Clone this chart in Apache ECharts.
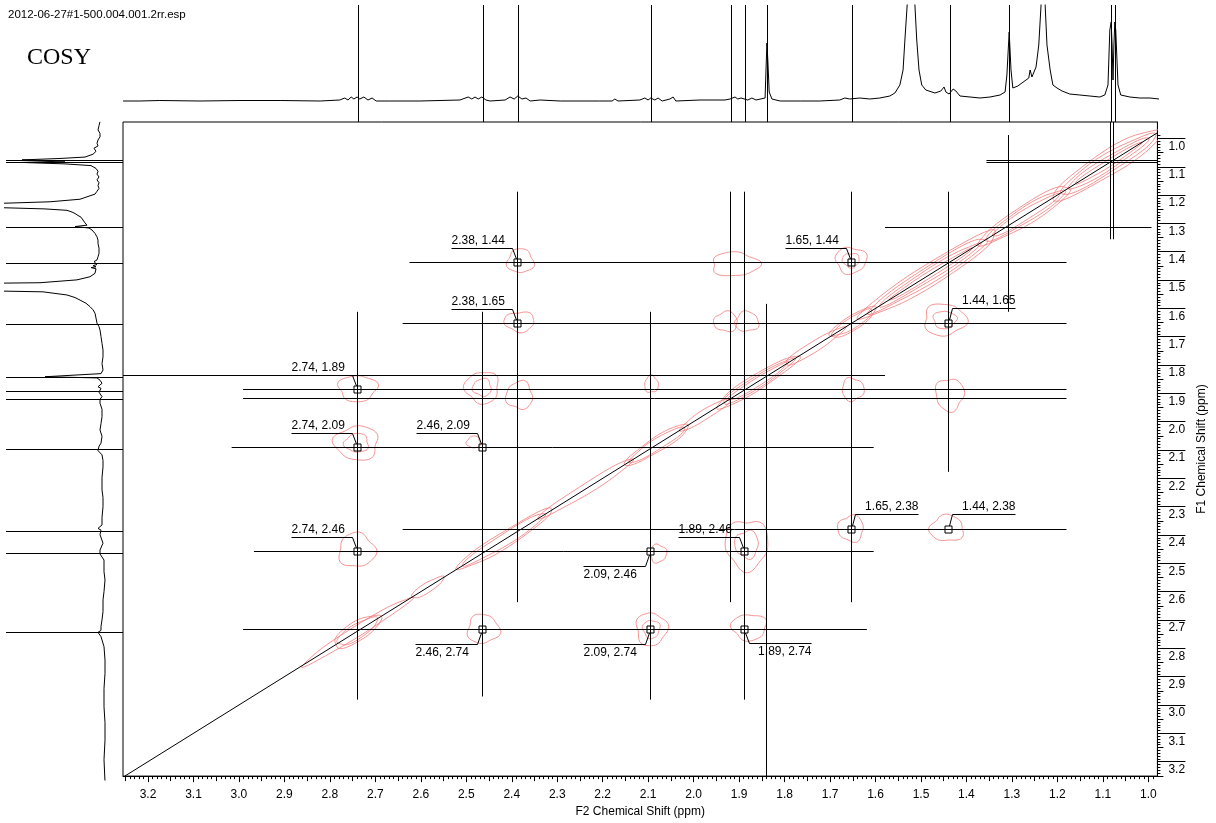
<!DOCTYPE html>
<html><head><meta charset="utf-8">
<script src="https://cdn.jsdelivr.net/npm/echarts@6/dist/echarts.min.js"></script>
<style>html,body{margin:0;padding:0;background:#fff}#c{width:1216px;height:823px}</style>
</head><body><div id="c"></div>
<script>
// ---------------- data ----------------
const F2_MAJOR = [1.0,1.1,1.2,1.3,1.4,1.5,1.6,1.7,1.8,1.9,2.0,2.1,2.2,2.3,2.4,2.5,2.6,2.7,2.8,2.9,3.0,3.1,3.2];
const F1_MAJOR = [1.0,1.1,1.2,1.3,1.4,1.5,1.6,1.7,1.8,1.9,2.0,2.1,2.2,2.3,2.4,2.5,2.6,2.7,2.8,2.9,3.0,3.1,3.2];
const F2_RANGE = [0.98, 3.255];
const F1_RANGE = [0.942, 3.251];

// 1D projection on top: [ppm, intensity]
const topTrace = [[3.255,4],[3.218,4],[3.174,4.5],[3.086,4],[2.998,4.5],[2.910,4.5],[2.822,4],[2.779,5],[2.768,7],[2.761,5],[2.754,8],[2.748,6],[2.741,8],[2.735,6],[2.726,8],[2.717,5],[2.708,7],[2.699,4],[2.669,4],[2.603,4],[2.515,5],[2.497,8],[2.489,6],[2.482,8],[2.475,6],[2.467,8],[2.458,5],[2.449,4],[2.416,5],[2.405,8],[2.396,6],[2.388,9],[2.379,6],[2.370,7],[2.361,4],[2.339,5],[2.295,4],[2.208,4],[2.181,4],[2.175,6],[2.168,4],[2.120,5],[2.109,7],[2.102,5],[2.096,7],[2.087,5],[2.080,7],[2.071,4],[2.054,6],[2.047,8],[2.041,4],[1.988,5],[1.933,5],[1.922,6],[1.911,8],[1.905,6],[1.898,7],[1.883,5],[1.874,7],[1.865,5],[1.845,7],[1.843,35],[1.841,62],[1.839,45],[1.836,13],[1.830,6],[1.812,4],[1.768,4],[1.725,4],[1.681,5],[1.670,7],[1.659,6],[1.637,7],[1.615,6],[1.593,7],[1.571,9],[1.560,12],[1.549,20],[1.542,35],[1.538,65],[1.533,100],[1.525,180],[1.516,100],[1.512,65],[1.507,35],[1.501,20],[1.492,15],[1.472,12],[1.459,14],[1.452,18],[1.448,13],[1.441,11],[1.432,16],[1.426,14],[1.417,9],[1.395,8],[1.373,7],[1.351,8],[1.329,10],[1.318,13],[1.314,30],[1.309,73],[1.305,35],[1.301,17],[1.290,19],[1.281,22],[1.272,25],[1.266,27],[1.263,35],[1.259,28],[1.250,38],[1.244,60],[1.239,100],[1.235,180],[1.230,100],[1.226,60],[1.219,35],[1.213,20],[1.204,17],[1.193,14],[1.176,11],[1.154,10],[1.132,9],[1.110,8],[1.099,10],[1.092,20],[1.088,75],[1.085,83],[1.083,60],[1.081,25],[1.079,60],[1.077,83],[1.075,75],[1.070,20],[1.064,10],[1.044,8],[1.022,7],[1.000,7],[0.980,6]];

// 1D projection on the left: [ppm, intensity]
const leftTrace = [[0.941,5],[0.955,6],[0.970,7],[0.982,5],[0.994,5],[1.005,7],[1.017,8],[1.026,7],[1.034,11],[1.045,9],[1.055,12],[1.065,20],[1.070,45],[1.075,83],[1.079,40],[1.084,83],[1.089,40],[1.095,14],[1.105,9],[1.115,7],[1.125,8],[1.135,6],[1.145,8],[1.155,6],[1.165,7],[1.175,6],[1.185,8],[1.195,10],[1.202,12],[1.213,25],[1.222,55],[1.228,110],[1.235,200],[1.242,110],[1.247,60],[1.252,38],[1.258,33],[1.263,30],[1.270,27],[1.276,24],[1.286,22],[1.296,20],[1.304,18],[1.309,30],[1.314,16],[1.321,13],[1.333,10],[1.345,8],[1.357,7],[1.368,7],[1.385,6],[1.403,6],[1.415,7],[1.426,8],[1.432,11],[1.438,13],[1.442,8],[1.446,12],[1.450,9],[1.453,14],[1.457,9],[1.461,8],[1.473,10],[1.485,15],[1.496,28],[1.506,65],[1.511,200],[1.520,200],[1.529,200],[1.538,62],[1.549,38],[1.558,30],[1.567,25],[1.578,19],[1.590,15],[1.601,12],[1.613,10],[1.630,9],[1.648,8],[1.660,6],[1.672,5],[1.695,4],[1.719,3],[1.742,2],[1.766,2],[1.790,3],[1.812,2],[1.825,4],[1.832,6],[1.836,60],[1.840,8],[1.848,5],[1.859,3],[1.865,5],[1.871,7],[1.877,4],[1.882,5],[1.890,6],[1.906,3],[1.915,5],[1.929,5],[1.950,3],[1.976,3],[2.000,4],[2.023,5],[2.045,3],[2.069,4],[2.080,6],[2.087,5],[2.095,7],[2.110,3],[2.130,2],[2.152,2],[2.190,3],[2.233,3],[2.260,2],[2.292,2],[2.330,3],[2.356,3],[2.368,7],[2.374,4],[2.380,6],[2.390,5],[2.397,6],[2.420,2],[2.444,5],[2.451,3],[2.458,5],[2.479,1],[2.520,1],[2.549,0],[2.590,1],[2.619,2],[2.660,2],[2.689,3],[2.712,4],[2.719,6],[2.726,4],[2.733,7],[2.740,5],[2.748,4],[2.783,1],[2.830,0],[2.877,0],[2.930,1],[2.994,1],[3.050,0],[3.111,0],[3.180,1],[3.257,0]];

// vertical cursor lines: [f2, f1 from, f1 to]
const vLines = [[2.740,1.612,2.981],[2.465,1.612,2.970],[2.388,1.188,2.637],[2.095,1.612,2.981],[1.920,1.188,2.637],[1.889,1.188,2.981],[1.841,1.584,3.251],[1.654,1.188,2.637],[1.440,1.188,2.177],[1.309,0.988,1.612],[1.085,0.942,1.356],[1.077,0.942,1.356]];
// horizontal cursor lines: [f1, f2 from, f2 to]
const hLines = [[1.075,1.356,0.980],[1.084,1.356,0.980],[1.311,1.579,0.993],[1.437,2.625,1.180],[1.651,2.640,1.180],[1.836,3.255,1.579],[1.885,2.991,1.180],[1.915,2.991,1.180],[2.089,3.016,1.604],[2.377,2.640,1.180],[2.455,2.967,1.604],[2.731,2.991,1.619]];

// labelled cross peaks: [f2, f1, label]
const crossPeaks = [[2.388,1.437,'2.38, 1.44'],[1.654,1.437,'1.65, 1.44'],[2.388,1.651,'2.38, 1.65'],[1.440,1.651,'1.44, 1.65'],[2.740,1.885,'2.74, 1.89'],[2.740,2.089,'2.74, 2.09'],[2.465,2.089,'2.46, 2.09'],[1.654,2.377,'1.65, 2.38'],[1.440,2.377,'1.44, 2.38'],[2.740,2.455,'2.74, 2.46'],[2.095,2.455,'2.09, 2.46'],[1.889,2.455,'1.89, 2.46'],[2.465,2.731,'2.46, 2.74'],[2.095,2.731,'2.09, 2.74'],[1.889,2.731,'1.89, 2.74']];

// contour blobs: [f2, f1, half width f2, half width f1, contour levels]
const contourPeaks = [[2.381,1.433,0.029,0.042,1],[1.909,1.444,0.052,0.042,1],[1.654,1.430,0.034,0.046,2],[2.383,1.647,0.033,0.035,1],[1.929,1.647,0.026,0.035,1],[1.883,1.647,0.026,0.035,1],[1.448,1.640,0.046,0.056,2],[2.739,1.882,0.042,0.046,1],[2.465,1.879,0.037,0.056,2],[2.383,1.907,0.029,0.049,1],[2.093,1.868,0.015,0.030,1],[1.650,1.886,0.024,0.040,1],[1.437,1.904,0.031,0.057,1],[2.741,2.075,0.048,0.060,2],[2.484,2.072,0.015,0.021,1],[2.741,2.454,0.040,0.060,1],[2.078,2.465,0.018,0.032,1],[1.883,2.433,0.047,0.088,2],[1.654,2.377,0.028,0.046,1],[1.443,2.377,0.037,0.046,1],[2.463,2.732,0.035,0.051,1],[2.093,2.732,0.034,0.058,2],[1.878,2.725,0.038,0.046,1]];

// diagonal ridge pieces: [from ppm, to ppm, half width (f1 ppm), levels]
const diagonalRidge = [[2.86,2.62,0.022,1],[2.79,2.69,0.040,2],[2.62,2.55,0.020,1],[2.52,2.31,0.032,2],[2.34,2.13,0.022,1],[2.15,2.01,0.030,2],[2.03,1.92,0.020,1],[1.95,1.77,0.032,3],[1.80,1.67,0.022,1],[1.70,1.60,0.030,2],[1.63,1.33,0.045,4],[1.37,1.17,0.040,3],[1.21,0.97,0.050,4]];

// ---------------- layout / style ----------------
const LABEL_SIDE = ['ul','ul','ul','ur','ul','ul','ul','ur','ur','ul','dl','ul','dl','dl','dr'];
const FONT = '"Liberation Sans", Arial, sans-serif';
const CONTOUR = '#f27878';

function steps(a, b, s){ const out=[]; for(let i=Math.round(a/s); i<=Math.round(b/s); i++) out.push(+(i*s).toFixed(3)); return out; }
const minorVals = steps(0.99, 3.25, 0.01);
const midVals = steps(1.0, 3.25, 0.05);

function ellipsePts(cx, cy, rx, ry, ang, wob, ph){
  const pts=[]; const n=48;
  for(let i=0;i<n;i++){
    const t=i/n*2*Math.PI; const r=1+wob*Math.sin(3*t+ph)+wob*0.6*Math.sin(5*t+ph*1.7);
    const x=rx*r*Math.cos(t), y=ry*r*Math.sin(t);
    pts.push([cx + x*Math.cos(ang) - y*Math.sin(ang), cy + x*Math.sin(ang) + y*Math.cos(ang)]);
  }
  return pts;
}
const crisp = v => Math.round(v) + 0.5;

const chart = echarts.init(document.getElementById('c'), null, {renderer:'canvas'});

const mainX = {gridIndex:0, type:'value', min:F2_RANGE[0], max:F2_RANGE[1], inverse:true, position:'bottom', splitLine:{show:false}};
const mainY = {gridIndex:0, type:'value', min:F1_RANGE[0], max:F1_RANGE[1], inverse:true, position:'right', splitLine:{show:false}};

const option = {
  animation:false,
  backgroundColor:'#fff',
  grid:[
    {left:123, top:122, width:1036, height:658, show:true, borderColor:'#000', borderWidth:1, backgroundColor:'transparent'},
    {left:123, top:5, width:1036, height:117},
    {left:5, top:122, width:118, height:658}
  ],
  xAxis:[
    Object.assign({}, mainX, {
      axisLine:{show:true, lineStyle:{color:'#000', width:1}},
      axisTick:{show:true, inside:false, length:6, customValues:F2_MAJOR, lineStyle:{color:'#000'}},
      axisLabel:{customValues:F2_MAJOR, formatter:v=>v.toFixed(1), color:'#000', fontFamily:FONT, fontSize:12, margin:13},
      name:'F2 Chemical Shift (ppm)', nameLocation:'middle', nameGap:25,
      nameTextStyle:{color:'#000', fontFamily:FONT, fontSize:12}
    }),
    Object.assign({}, mainX, {axisLine:{show:false}, axisTick:{show:true, length:3, customValues:minorVals, lineStyle:{color:'#000'}}, axisLabel:{show:false}}),
    Object.assign({}, mainX, {axisLine:{show:false}, axisTick:{show:true, length:5, customValues:midVals, lineStyle:{color:'#000'}}, axisLabel:{show:false}}),
    {gridIndex:1, type:'value', min:F2_RANGE[0], max:F2_RANGE[1], inverse:true, show:false},
    {gridIndex:2, type:'value', min:-18, max:100, inverse:true, show:false}
  ],
  yAxis:[
    Object.assign({}, mainY, {
      axisLine:{show:true, lineStyle:{color:'#000', width:1}},
      axisTick:{show:true, inside:false, length:28, customValues:F1_MAJOR, lineStyle:{color:'#000'}},
      axisLabel:{customValues:F1_MAJOR, formatter:v=>v.toFixed(1), color:'#000', fontFamily:FONT, fontSize:12, margin:11, verticalAlign:'top', align:'left', padding:[2,0,0,0]},
      name:'F1 Chemical Shift (ppm)', nameLocation:'middle', nameGap:35, nameRotate:90,
      nameTextStyle:{color:'#000', fontFamily:FONT, fontSize:12}
    }),
    Object.assign({}, mainY, {axisLine:{show:false}, axisTick:{show:true, length:3, customValues:minorVals, lineStyle:{color:'#000'}}, axisLabel:{show:false}}),
    Object.assign({}, mainY, {axisLine:{show:false}, axisTick:{show:true, length:6, customValues:midVals, lineStyle:{color:'#000'}}, axisLabel:{show:false}}),
    {gridIndex:1, type:'value', min:-17, max:100, show:false},
    {gridIndex:2, type:'value', min:F1_RANGE[0], max:F1_RANGE[1], inverse:true, show:false}
  ],
  graphic:[
    {type:'text', left:8, top:9, style:{text:'2012-06-27#1-500.004.001.2rr.esp', font:'11.5px ' + FONT, fill:'#000'}},
    {type:'text', left:27, top:46, style:{text:'COSY', font:'24px "Liberation Serif", "Times New Roman", serif', fill:'#000'}}
  ],
  series:[
    // diagonal ridge contours
    {type:'custom', xAxisIndex:0, yAxisIndex:0, clip:true, silent:true,
     data: diagonalRidge, encode:{x:[0,1], y:[0,1]},
     renderItem(params, api){
       const a=api.value(0), b=api.value(1), hw=api.value(2), lv=api.value(3);
       const pa=api.coord([a,a]), pb=api.coord([b,b]);
       const cx=(pa[0]+pb[0])/2, cy=(pa[1]+pb[1])/2;
       const ang=Math.atan2(pb[1]-pa[1], pb[0]-pa[0]);
       const L=Math.hypot(pb[0]-pa[0], pb[1]-pa[1])/2;
       const W=Math.abs(api.size([0,hw])[1])*Math.abs(Math.cos(ang));
       const ch=[];
       for(let k=0;k<lv;k++){
         ch.push({type:'polygon', shape:{points:ellipsePts(cx,cy,L*(1-0.13*k),W*(1-0.24*k),ang,0.05,params.dataIndex+k)},
           style:{fill:'none', stroke:CONTOUR, lineWidth:0.8}});
       }
       return {type:'group', children:ch};
     }},
    // cross-peak contours
    {type:'custom', xAxisIndex:0, yAxisIndex:0, clip:true, silent:true,
     data: contourPeaks, encode:{x:0, y:1},
     renderItem(params, api){
       const c=api.coord([api.value(0), api.value(1)]);
       const s=api.size([api.value(2), api.value(3)]);
       const lv=api.value(4); const ch=[];
       for(let k=0;k<lv;k++){
         const f=1-0.45*k;
         ch.push({type:'polygon', shape:{points:ellipsePts(c[0],c[1],Math.abs(s[0])*f,Math.abs(s[1])*f,0,0.09,params.dataIndex*1.3+k)},
           style:{fill:'none', stroke:CONTOUR, lineWidth:0.8}});
       }
       return {type:'group', children:ch};
     }},
    // diagonal f1 = f2
    {type:'line', xAxisIndex:0, yAxisIndex:0, data:[[F2_RANGE[0],F2_RANGE[0]],[F1_RANGE[1],F1_RANGE[1]]], symbol:'none', clip:true, silent:true,
     lineStyle:{color:'#000', width:1}},
    // vertical cursor lines in the 2D area
    {type:'custom', xAxisIndex:0, yAxisIndex:0, silent:true, data:vLines, encode:{x:0, y:[1,2]},
     renderItem(params, api){
       const p1=api.coord([api.value(0), api.value(1)]), p2=api.coord([api.value(0), api.value(2)]);
       const x=crisp(p1[0]);
       return {type:'line', shape:{x1:x,y1:p1[1],x2:x,y2:p2[1]}, style:{stroke:'#000', lineWidth:1}};
     }},
    // horizontal cursor lines in the 2D area
    {type:'custom', xAxisIndex:0, yAxisIndex:0, silent:true, data:hLines, encode:{y:0, x:[1,2]},
     renderItem(params, api){
       const p1=api.coord([api.value(1), api.value(0)]), p2=api.coord([api.value(2), api.value(0)]);
       const y=crisp(p1[1]);
       return {type:'line', shape:{x1:p1[0],y1:y,x2:p2[0],y2:y}, style:{stroke:'#000', lineWidth:1}};
     }},
    // labelled peaks
    {type:'custom', xAxisIndex:0, yAxisIndex:0, silent:true, data:crossPeaks.map(p=>[p[0],p[1]]), encode:{x:0, y:1},
     renderItem(params, api){
       const c=api.coord([api.value(0), api.value(1)]);
       const mx=Math.round(c[0])+0.5, my=Math.round(c[1])+0.5;
       const side=LABEL_SIDE[params.dataIndex]; const txt=crossPeaks[params.dataIndex][2];
       let pts, tx, ty, al;
       if(side==='ul'){ pts=[[mx-66,my-14],[mx-5,my-14],[mx-1,my-3.5]]; tx=mx-66; ty=my-22; al='left'; }
       else if(side==='ur'){ pts=[[mx+1,my-3.5],[mx+4,my-15],[mx+67,my-15]]; tx=mx+67; ty=my-23; al='right'; }
       else if(side==='dl'){ pts=[[mx-1,my+3.5],[mx-5,my+15],[mx-67,my+15]]; tx=mx-67; ty=my+23; al='left'; }
       else { pts=[[mx+1,my+3.5],[mx+5,my+14],[mx+67,my+14]]; tx=mx+67; ty=my+22; al='right'; }
       return {type:'group', children:[
         {type:'rect', shape:{x:mx-3.5,y:my-3.5,width:7,height:7}, style:{fill:'none', stroke:'#000', lineWidth:1}},
         {type:'polyline', shape:{points:pts}, style:{fill:'none', stroke:'#000', lineWidth:1}},
         {type:'text', style:{text:txt, x:tx, y:ty, align:al, verticalAlign:'middle', font:'12px '+FONT, fill:'#000'}}
       ]};
     }},
    // top projection
    {type:'line', xAxisIndex:3, yAxisIndex:3, data:topTrace, symbol:'none', clip:true, silent:true,
     lineStyle:{color:'#000', width:1}},
    {type:'custom', xAxisIndex:3, yAxisIndex:3, silent:true, data:vLines.map(l=>[l[0]]), encode:{x:0},
     renderItem(params, api){
       const cs=params.coordSys; const p=api.coord([api.value(0), 0]); const x=crisp(p[0]);
       return {type:'line', shape:{x1:x,y1:cs.y,x2:x,y2:cs.y+cs.height}, style:{stroke:'#000', lineWidth:1}};
     }},
    // left projection
    {type:'line', xAxisIndex:4, yAxisIndex:4, data:leftTrace.map(p=>[p[1],p[0]]), symbol:'none', clip:true, silent:true,
     lineStyle:{color:'#000', width:1}},
    {type:'custom', xAxisIndex:4, yAxisIndex:4, silent:true, data:hLines.map(l=>[0,l[0]]), encode:{y:1},
     renderItem(params, api){
       const cs=params.coordSys; const p=api.coord([0, api.value(1)]); const y=crisp(p[1]);
       return {type:'line', shape:{x1:cs.x+1,y1:y,x2:cs.x+cs.width,y2:y}, style:{stroke:'#000', lineWidth:1}};
     }}
  ]
};
chart.setOption(option);
</script>
</body></html>
